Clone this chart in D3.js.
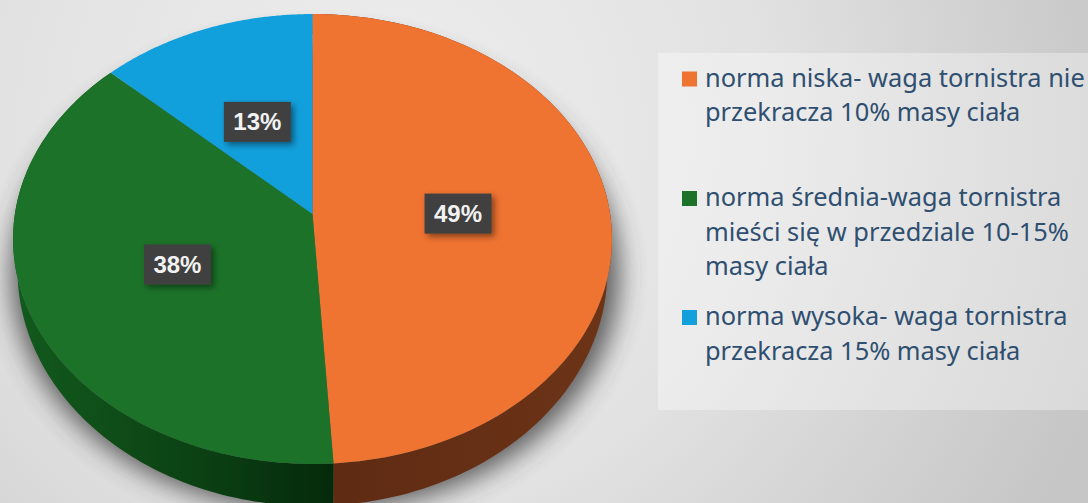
<!DOCTYPE html>
<html><head><meta charset="utf-8">
<script src="https://cdn.jsdelivr.net/npm/d3@7/dist/d3.min.js"></script>
<style>html,body{margin:0;padding:0;background:#e4e4e4;overflow:hidden}svg{display:block}</style>
</head><body><svg id="c" width="1088" height="503"></svg>
<script>
const values=[49,38,13];
const labels=["49%","38%","13%"];
const topColors=["#ef7331","#1c7229","#12a0dc"];
const legendLines=[
 ["norma niska- waga tornistra nie","przekracza 10% masy ciała"],
 ["norma średnia-waga tornistra","mieści się w przedziale 10-15%","masy ciała"],
 ["norma wysoka- waga tornistra","przekracza 15% masy ciała"]];
const legendBaselines=[[86.5,121],[206,240.5,275],[325,360]];

const W=1088,H=503;
const svg=d3.select("#c");
const defs=svg.append("defs");
const bg=defs.append("radialGradient").attr("id","bg").attr("gradientUnits","userSpaceOnUse").attr("cx",380).attr("cy",130).attr("r",760);
bg.append("stop").attr("offset",0).attr("stop-color","#eeeeee");
bg.append("stop").attr("offset",.5).attr("stop-color","#e2e2e2");
bg.append("stop").attr("offset",1).attr("stop-color","#c6c6c6");
defs.append("filter").attr("id","blur").attr("x","-20%").attr("y","-20%").attr("width","140%").attr("height","140%")
 .append("feGaussianBlur").attr("stdDeviation",13);
const ds=defs.append("filter").attr("id","ds").attr("x","-30%").attr("y","-30%").attr("width","170%").attr("height","170%");
ds.append("feDropShadow").attr("dx",3).attr("dy",3).attr("stdDeviation",3).attr("flood-color","#000").attr("flood-opacity",.45);
const sg=defs.append("linearGradient").attr("id","sideGreen").attr("gradientUnits","userSpaceOnUse").attr("x1",15).attr("x2",333).attr("y1",0).attr("y2",0);
sg.append("stop").attr("offset",0).attr("stop-color","#125a1d");
sg.append("stop").attr("offset",.6).attr("stop-color","#0b4013");
sg.append("stop").attr("offset",1).attr("stop-color","#052a0b");
const so=defs.append("linearGradient").attr("id","sideOrange").attr("gradientUnits","userSpaceOnUse").attr("x1",333).attr("x2",612).attr("y1",0).attr("y2",0);
so.append("stop").attr("offset",0).attr("stop-color","#5e2b13");
so.append("stop").attr("offset",1).attr("stop-color","#6d3417");

svg.append("rect").attr("width",W).attr("height",H).attr("fill","url(#bg)");
svg.append("rect").attr("x",658).attr("y",53).attr("width",430).attr("height",357).attr("fill","#fff").attr("opacity",.34);

const cx=312.5,cy=214;
const xk=d3.scaleLinear().domain([-1,1]).range([-297.6,297.6]);
const yk=d3.scaleLinear().domain([0,1]).range([cy,cy+198.4]);
const persp=d=>1-0.1111*d;
function proj(a,r){
 const px=Math.sin(a)*r, py=-Math.cos(a)*r, w=persp(py);
 return [cx+xk(px)/w, yk(py)/w];
}
function rim(a){
 const p=proj(a,1);
 return [cx+(p[0]-cx)*0.985, 270+(p[1]-239)*236/225];
}
const arcs=d3.pie().sort(null)(values);
const sample=(a0,a1,n)=>d3.range(n+1).map(i=>a0+(a1-a0)*i/n);
const line=d3.line();

// shadow
const full=sample(0,2*Math.PI,180);
svg.append("path").attr("d",line(full.map(a=>{const p=rim(a);return [p[0]+(p[0]>cx?12:-6),p[1]+4];}))+"Z")
 .attr("fill","#3a3a3a").attr("opacity",.8).attr("filter","url(#blur)");

// side walls
const sideFill=["url(#sideOrange)","url(#sideGreen)",null];
arcs.forEach((d,i)=>{
 if(!sideFill[i])return;
 const as=sample(d.startAngle,d.endAngle,120);
 const pts=as.map(rim).concat(as.slice().reverse().map(a=>proj(a,1)));
 svg.append("path").attr("d",line(pts)+"Z").attr("fill",sideFill[i]);
});
// top faces
arcs.forEach((d,i)=>{
 const pts=[[cx,cy]].concat(sample(d.startAngle,d.endAngle,120).map(a=>proj(a,1)));
 svg.append("path").attr("d",line(pts)+"Z").attr("fill",topColors[i]);
});
// data labels
arcs.forEach((d,i)=>{
 const p=proj((d.startAngle+d.endAngle)/2,.49);
 const g=svg.append("g").attr("transform",`translate(${p[0]},${p[1]+3})`);
 g.append("rect").attr("x",-33.5).attr("y",-20).attr("width",67).attr("height",40).attr("fill","#404040").attr("filter","url(#ds)");
 g.append("text").attr("text-anchor","middle").attr("y",8.5).attr("font-family","Liberation Sans").attr("font-weight","bold").attr("font-size",24).attr("fill","#f2f2f2").text(labels[i]);
});
// legend
legendLines.forEach((ls,i)=>{
 svg.append("rect").attr("x",682).attr("y",legendBaselines[i][0]-15).attr("width",15).attr("height",15).attr("fill",topColors[i]);
 ls.forEach((t,j)=>{
  svg.append("text").attr("x",705).attr("y",legendBaselines[i][j]).attr("font-family","Noto Sans").attr("font-size",25.4).attr("fill","#2f4f70").text(t);
 });
});
</script></body></html>
